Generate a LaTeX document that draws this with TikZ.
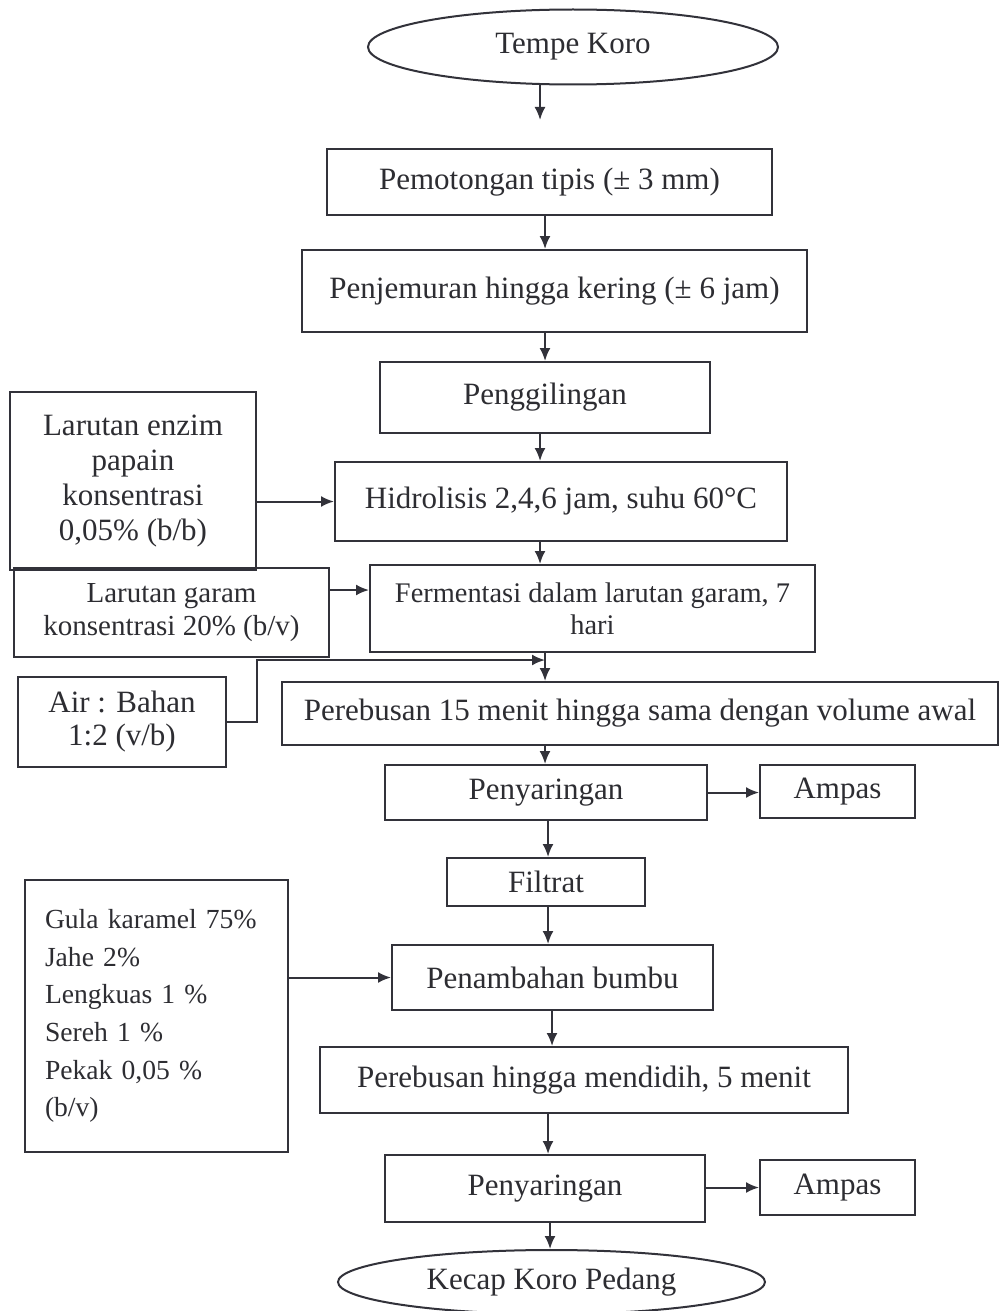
\documentclass[tikz,border=0pt]{standalone}
\usepackage{fontspec}
\setmainfont{Liberation Serif}
\usetikzlibrary{shapes.geometric,arrows.meta}
\definecolor{ink}{RGB}{50,50,58}
\definecolor{txt}{RGB}{45,45,50}
\begin{document}
\begin{tikzpicture}[x=0.5pt,y=-0.5pt,
  box/.style={draw=ink,line width=1pt,rectangle,inner sep=0pt,align=center,text=txt,font=\fontsize{15.5}{17.5}\selectfont},
  oval/.style={draw=ink,line width=1pt,ellipse,inner sep=0pt,text=txt,font=\fontsize{15.5}{17.5}\selectfont},
  arr/.style={draw=ink,line width=1pt,-{Latex[length=6.5pt,width=5.5pt]}}]
\fill[white] (0,0) rectangle (1000,1311);
\useasboundingbox (0,0) rectangle (1000,1311);
% main column
\node[oval,minimum width=205pt,minimum height=37.5pt] (tempe) at (573,47) {Tempe Koro};
\node[box,minimum width=222.5pt,minimum height=33pt] (b1) at (549.5,182) {Pemotongan tipis (± 3 mm)};
\node[box,minimum width=252.5pt,minimum height=41pt] (b2) at (554.5,291) {Penjemuran hingga kering (± 6 jam)};
\node[box,minimum width=165pt,minimum height=35.5pt] (b3) at (545,397.5) {Penggilingan};
\node[box,minimum width=226pt,minimum height=39.5pt] (b4) at (561,501.5) {Hidrolisis 2,4,6 jam, suhu 60°C};
\node[box,minimum width=222.5pt,minimum height=43.5pt,font=\fontsize{14.2}{16}\selectfont] (b5) at (592.5,608.5) {Fermentasi dalam larutan garam, 7\\hari};
\node[box,minimum width=358pt,minimum height=31.5pt] (b6) at (640,713.5) {Perebusan 15 menit hingga sama dengan volume awal};
\node[box,minimum width=161pt,minimum height=27.5pt] (b7) at (546,792.5) {Penyaringan};
\node[box,minimum width=77.5pt,minimum height=26.5pt] (amp1) at (837.5,791.5) {Ampas};
\node[box,minimum width=99pt,minimum height=24pt] (fil) at (546,882) {Filtrat};
\node[box,minimum width=160.5pt,minimum height=32.5pt] (b8) at (552.5,977.5) {Penambahan bumbu};
\node[box,minimum width=264pt,minimum height=33pt] (b9) at (584,1080) {Perebusan hingga mendidih, 5 menit};
\node[box,minimum width=160pt,minimum height=33.5pt] (b10) at (545,1188.5) {Penyaringan};
\node[box,minimum width=77.5pt,minimum height=27.5pt] (amp2) at (837.5,1187.5) {Ampas};
\node[oval,minimum width=213.5pt,minimum height=32pt] (kecap) at (551.5,1282) {Kecap Koro Pedang};
% side inputs
\node[box,minimum width=123pt,minimum height=89pt] (enz) at (133,481) {Larutan enzim\\papain\\konsentrasi\\0,05\% (b/b)};
\node[box,minimum width=157.5pt,minimum height=44.5pt,font=\fontsize{14.5}{16.5}\selectfont] (gar) at (171.5,612.5) {Larutan garam\\konsentrasi 20\% (b/v)};
\node[box,minimum width=104pt,minimum height=45pt,font=\fontsize{15.5}{16.5}\selectfont] (air) at (122,722) {Air : Bahan\\1:2 (v/b)};
\node[box,minimum width=131.5pt,minimum height=136pt,inner xsep=10pt,text width=111.5pt,align=left,font=\fontsize{13.8}{18.8}\selectfont] (bum) at (156.5,1016) {Gula karamel 75\%\\Jahe 2\%\\Lengkuas 1 \%\\Sereh 1 \%\\Pekak 0,05 \%\\(b/v)};
% helper coordinates
\coordinate (s540) at (540,0);
\coordinate (s545) at (545,0);
\coordinate (s548) at (548,0);
\coordinate (s550) at (550,0);
\coordinate (s552) at (552,0);
\coordinate (t0) at (540,120);
\coordinate (yg) at (0,590);
\coordinate (jn) at (545,660);
% connectors
\draw[arr] (tempe.south -| s540) -- (t0);
\draw[arr] (b1.south -| s545) -- (b2.north -| s545);
\draw[arr] (b2.south -| s545) -- (b3.north -| s545);
\draw[arr] (b3.south -| s540) -- (b4.north -| s540);
\draw[arr] (b4.south -| s540) -- (b5.north -| s540);
\draw[arr] (b5.south -| s545) -- (b6.north -| s545);
\draw[arr] (b6.south -| s545) -- (b7.north -| s545);
\draw[arr] (b7.south -| s548) -- (fil.north -| s548);
\draw[arr] (fil.south -| s548) -- (b8.north -| s548);
\draw[arr] (b8.south -| s552) -- (b9.north -| s552);
\draw[arr] (b9.south -| s548) -- (b10.north -| s548);
\draw[arr] (b10.south -| s550) -- (kecap.north -| s550);
\draw[arr] (b7.east) -- (b7.east -| amp1.west);
\draw[arr] (b10.east |- amp2.west) -- (amp2.west);
\draw[arr] (enz.east |- b4.west) -- (b4.west);
\draw[arr] (gar.east |- yg) -- (b5.west |- yg);
\draw[arr] (air.east) -- ++(30,0) |- (jn);
\draw[arr] (bum.east |- b8.west) -- (b8.west);
\end{tikzpicture}
\end{document}
